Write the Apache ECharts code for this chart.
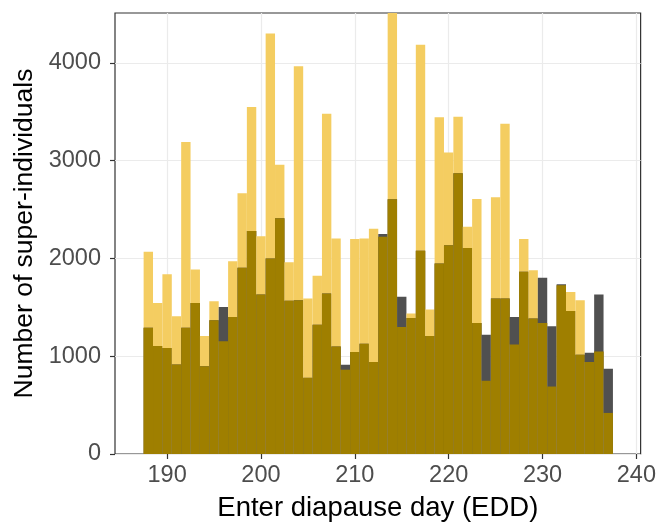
<!DOCTYPE html>
<html>
<head>
<meta charset="utf-8">
<script src="https://cdn.jsdelivr.net/npm/echarts@6/dist/echarts.min.js"></script>
<style>html,body{margin:0;padding:0;background:#fff}#c{width:659px;height:527px}</style>
</head>
<body>
<div id="c"></div>
<script>
// Enter-diapause day bins (bin centres, width 1 day)
const days = [188,189,190,191,192,193,194,195,196,197,198,199,200,201,202,203,204,205,206,207,208,209,210,211,212,213,214,215,216,217,218,219,220,221,222,223,224,225,226,227,228,229,230,231,232,233,234,235,236,237];
// gold histogram counts
const goldCounts = [2068,1545,1839,1408,3190,1888,1206,1562,1152,1972,2667,3549,2226,4300,2957,1962,3966,1590,1822,3480,2205,862,2198,2205,2304,2222,4560,1299,1436,4185,1477,3443,3084,3449,2324,2608,749,2626,3377,1121,2198,1880,1340,690,1725,1658,1572,940,1049,420];
// dark grey histogram counts
const darkCounts = [1292,1104,1083,916,1292,1545,898,1367,1504,1401,1904,2280,1631,2000,2410,1566,1572,779,1323,1641,1100,913,1042,1128,940,2249,2605,1607,1391,2079,1206,1949,2136,2872,2106,1340,1220,1590,1590,1402,1863,1385,1802,1306,1735,1463,1015,1036,1631,872];
const xTicks = [190,200,210,220,230,240];
const yTicks = [0,1000,2000,3000,4000];

const binData = days.map((d, i) => [d, goldCounts[i], darkCounts[i]]);

const chart = echarts.init(document.getElementById('c'), null, {renderer: 'canvas'});
const font = 'Liberation Sans, Arial, Helvetica, sans-serif';

function renderItem(params, api) {
  const d = api.value(0), g = api.value(1), k = api.value(2);
  const cs = params.coordSys;
  function rect(v, color) {
    const p0 = api.coord([d - 0.5, v]);
    const p1 = api.coord([d + 0.5, 0]);
    const r = echarts.graphic.clipRectByRect(
      {x: p0[0], y: p0[1], width: p1[0] - p0[0], height: p1[1] - p0[1]},
      {x: cs.x, y: cs.y, width: cs.width, height: cs.height});
    return r ? {type: 'rect', shape: r, style: {fill: color}} : null;
  }
  const children = [
    rect(g, '#F4CD61'),
    rect(k, '#505050'),
    rect(Math.min(g, k), '#9F7F00')
  ].filter(Boolean);
  return {type: 'group', children};
}

chart.setOption({
  animation: false,
  grid: {left: 115, right: 17, top: 13, bottom: 73, show: true, borderColor: '#333', borderWidth: 1.2, backgroundColor: 'transparent'},
  xAxis: {
    type: 'value', min: 184.45, max: 240.45, minInterval: 10, maxInterval: 10,
    name: 'Enter diapause day (EDD)', nameLocation: 'middle', nameGap: 40,
    nameTextStyle: {fontFamily: font, fontSize: 27.5, color: '#000'},
    axisLine: {show: false},
    axisTick: {show: true, length: 5, lineStyle: {color: '#333', width: 1.2}, customValues: xTicks},
    axisLabel: {fontFamily: font, fontSize: 23.5, color: '#4D4D4D', margin: 10, customValues: xTicks, formatter: v => String(v)},
    splitLine: {show: true, lineStyle: {color: '#EBEBEB', width: 1.2}}
  },
  yAxis: {
    type: 'value', min: 0, max: 4510, minInterval: 1000, maxInterval: 1000,
    name: 'Number of super-individuals', nameLocation: 'middle', nameGap: 74,
    nameTextStyle: {fontFamily: font, fontSize: 26.5, color: '#000'},
    axisLine: {show: false},
    axisTick: {show: true, length: 5, lineStyle: {color: '#333', width: 1.2}, customValues: yTicks},
    axisLabel: {fontFamily: font, fontSize: 23.5, color: '#4D4D4D', margin: 14, customValues: yTicks, formatter: v => String(v)},
    splitLine: {show: true, lineStyle: {color: '#EBEBEB', width: 1.2}}
  },
  series: [{
    type: 'custom',
    renderItem: renderItem,
    encode: {x: 0, y: [1, 2]},
    data: binData
  }]
});
</script>
</body>
</html>
